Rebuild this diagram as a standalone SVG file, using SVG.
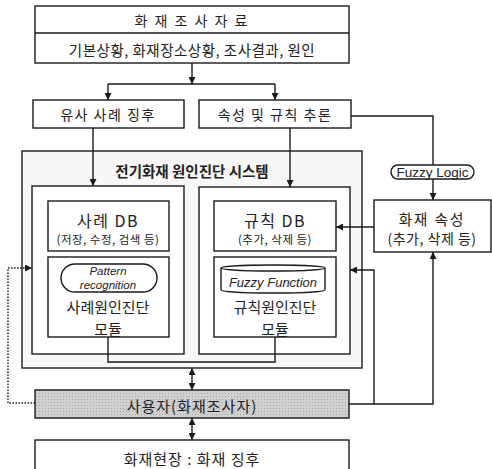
<svg xmlns="http://www.w3.org/2000/svg" width="492" height="469" viewBox="0 0 492 469">
<style>
.bx{fill:#fff;stroke:#1a1a1a;stroke-width:1.4}
.ln{fill:none;stroke:#1a1a1a;stroke-width:1.4}
.t{font-family:"Noto Sans CJK KR","Noto Sans",sans-serif;fill:#222;text-anchor:middle;dominant-baseline:central}
.i{font-family:"Liberation Sans",Arial,sans-serif;font-style:italic;fill:#222;text-anchor:middle;dominant-baseline:central}
</style>
<defs>
<marker id="ah" viewBox="0 0 10 10" refX="10" refY="5" markerWidth="7" markerHeight="7" orient="auto-start-reverse" markerUnits="userSpaceOnUse"><path d="M0,0 L10,5 L0,10 z" fill="#1a1a1a"/></marker>
<pattern id="dots" width="3" height="3" patternUnits="userSpaceOnUse"><rect width="3" height="3" fill="#d0d0d0"/><rect width="1" height="1" fill="#a8a8a8"/></pattern>
</defs>
<rect width="492" height="469" fill="#fff"/>

<g id="top">
<rect class="bx" x="35" y="6" width="314" height="57"/>
<line class="ln" x1="35" y1="33" x2="349" y2="33"/>
<text class="t" x="192" y="20" font-size="14" letter-spacing="2">화 재 조 사 자 료</text>
<text class="t" x="192" y="49" font-size="14.5" letter-spacing="0.5">기본상황, 화재장소상황, 조사결과, 원인</text>
</g>

<g id="similar">
<rect class="bx" x="33" y="100" width="151" height="28"/>
<text class="t" x="108" y="114" font-size="14" letter-spacing="1.5">유사 사례 징후</text>
</g>

<g id="infer">
<rect class="bx" x="199" y="100" width="152" height="28"/>
<text class="t" x="275" y="114" font-size="14" letter-spacing="1.5">속성 및 규칙 추론</text>
</g>

<g id="system">
<rect class="bx" x="22" y="151" width="340" height="217" style="fill:#f7f7f7"/>
<text class="t" x="192" y="170" font-size="14.5" font-weight="bold">전기화재 원인진단 시스템</text>
</g>

<g id="leftInner">
<rect class="bx" x="32" y="186" width="152" height="168"/>
</g>
<g id="caseDB">
<rect class="bx" x="48" y="201" width="121" height="50"/>
<text class="t" x="108" y="220" font-size="16" letter-spacing="1.5">사례 DB</text>
<text class="t" x="108" y="239" font-size="11.5" letter-spacing="0.5">(저장, 수정, 검색 등)</text>
</g>
<g id="caseModule">
<rect class="bx" x="48" y="257" width="121" height="80"/>
<rect class="ln" x="61" y="264" width="96" height="28" rx="14"/>
<text class="i" x="108" y="271" font-size="11.5">Pattern</text>
<text class="i" x="108" y="285" font-size="11.5">recognition</text>
<text class="t" x="108" y="306" font-size="15">사례원인진단</text>
<text class="t" x="108" y="328" font-size="15">모듈</text>
</g>

<g id="rightInner">
<rect class="bx" x="199" y="187" width="151" height="167"/>
</g>
<g id="ruleDB">
<rect class="bx" x="214" y="201" width="122" height="50"/>
<text class="t" x="275" y="220" font-size="16" letter-spacing="1.5">규칙 DB</text>
<text class="t" x="275" y="239" font-size="11.5" letter-spacing="0.5">(추가, 삭제 등)</text>
</g>
<g id="ruleModule">
<rect class="bx" x="214" y="257" width="122" height="80"/>
<path class="ln" d="M221,268 L221,290 A52,3 0 0 0 325,290 L325,268"/>
<ellipse class="ln" cx="273" cy="268" rx="52" ry="3"/>
<text class="i" x="273" y="282" font-size="13">Fuzzy Function</text>
<text class="t" x="275" y="306" font-size="15">규칙원인진단</text>
<text class="t" x="275" y="328" font-size="15">모듈</text>
</g>

<g id="fuzzyLogic">
<rect class="bx" x="391" y="165" width="83" height="14" rx="7"/>
<text class="t" x="432.5" y="172" font-size="13.5" style="font-family:'Liberation Sans',Arial,sans-serif">Fuzzy Logic</text>
</g>

<g id="attr">
<rect class="bx" x="374" y="200" width="117" height="52"/>
<text class="t" x="432" y="218" font-size="14.5" letter-spacing="2">화재 속성</text>
<text class="t" x="432" y="238" font-size="14" letter-spacing="0.5">(추가, 삭제 등)</text>
</g>

<g id="user">
<rect class="bx" x="35" y="390" width="314" height="28" style="fill:url(#dots)"/>
<text class="t" x="192" y="405" font-size="15" letter-spacing="1">사용자(화재조사자)</text>
</g>

<g id="site">
<rect class="bx" x="35" y="440" width="314" height="32"/>
<text class="t" x="192" y="458" font-size="15" letter-spacing="1">화재현장 : 화재 징후</text>
</g>

<g id="connectors">
<line class="ln" x1="192" y1="63" x2="192" y2="84" marker-end="url(#ah)"/>
<line class="ln" x1="108" y1="84" x2="275" y2="84"/>
<line class="ln" x1="108" y1="84" x2="108" y2="100" marker-end="url(#ah)"/>
<line class="ln" x1="275" y1="84" x2="275" y2="100" marker-end="url(#ah)"/>
<line class="ln" x1="93" y1="128" x2="93" y2="186" marker-end="url(#ah)"/>
<line class="ln" x1="290" y1="128" x2="290" y2="187" marker-end="url(#ah)"/>
<path class="ln" d="M351,116 H433 V165"/>
<line class="ln" x1="433" y1="179" x2="433" y2="200" marker-end="url(#ah)"/>
<line class="ln" x1="374" y1="227" x2="336" y2="227" marker-end="url(#ah)"/>
<path class="ln" d="M108,337 V362 H275 V337"/>
<line class="ln" x1="192" y1="368" x2="192" y2="390" marker-start="url(#ah)" marker-end="url(#ah)"/>
<line class="ln" x1="192" y1="418" x2="192" y2="440" marker-start="url(#ah)" marker-end="url(#ah)"/>
<path class="ln" d="M35,403 H8 V268 H32" stroke-dasharray="1.5,1.5" marker-end="url(#ah)"/>
<path class="ln" d="M349,404 H433 V252" marker-end="url(#ah)"/>
<path class="ln" d="M374,404 V270 H350" marker-end="url(#ah)"/>
</g>
</svg>
